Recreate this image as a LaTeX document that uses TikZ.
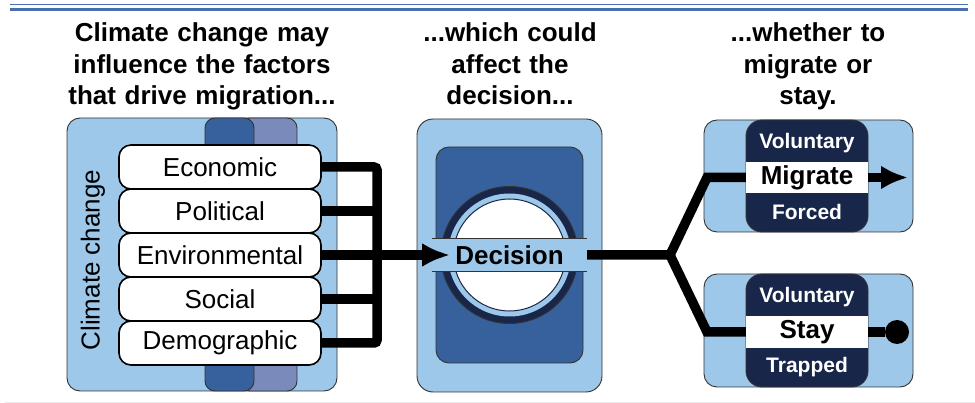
\documentclass[tikz,border=0pt]{standalone}
\usepackage{fontspec}
\setmainfont{Liberation Sans}
\usetikzlibrary{positioning}
\usetikzlibrary{arrows.meta}

\definecolor{skyfill}{RGB}{157,200,234}
\definecolor{midblue}{RGB}{54,97,157}
\definecolor{lilac}{RGB}{122,139,187}
\definecolor{navy}{RGB}{24,38,74}
\definecolor{rulecol}{RGB}{74,111,176}

\tikzset{
	panel/.style={draw=black!80, line width=0.9, rounded corners=13, fill=skyfill, inner sep=0pt},
	strip/.style={draw=black!80, line width=0.9, rounded corners=10, inner sep=0pt, minimum height=273},
	factor/.style={draw, line width=1.6, rounded corners=12, fill=white, inner sep=0pt, minimum width=202, minimum height=44, font=\fontsize{26}{31}\selectfont},
	% headings over the three columns
	head/.style={anchor=base, text width=330, align=center, inner sep=0pt, font=\bfseries\fontsize{26}{31.5}\selectfont},
	choice/.style={fill=white, inner sep=0pt, minimum width=122, minimum height=31, font=\bfseries\fontsize{26}{31}\selectfont},
	tag/.style={inner sep=0pt, minimum height=38, text=white, font=\bfseries\fontsize{21}{25}\selectfont},
	conn/.style={line width=9.5, black},
}

\begin{document}
\begin{tikzpicture}[x=1pt, y=-1pt]
	\useasboundingbox (0,0) rectangle (975,403);
	\draw[rulecol, line width=1.3] (10,4.7) -- (968,4.7);
	\draw[rulecol, line width=2.2] (10,9.5) -- (968,9.5);
	\draw[black!8, line width=1] (5,402) -- (975,402);
	
	\node (headL) [head] at (202,42) {Climate change may\\influence the factors\\that drive migration...};
	\node (headM) [head] at (510,42) {...which could\\affect the\\decision...};
	\node (headR) [head] at (808,42) {...whether to\\migrate or\\stay.};
	
	% drivers
	\node (panelL) [panel, minimum width=270, minimum height=273] at (202,254.5) {};
	\node (stripB) [strip, fill=lilac, minimum width=57] at (268.5,254.5) {};
	\node (stripA) [strip, fill=midblue, minimum width=49] at (229.5,254.5) {};
	\node (econ) [factor] at (220,167) {Economic};
	\node (poli) [factor, below=-1.6pt of econ] {Political};
	\node (envi) [factor, below=-1.6pt of poli] {Environmental};
	\node (soci) [factor, below=-1.6pt of envi] {Social};
	\node (demo) [factor, below=-1.6pt of soci] {Demographic};
	\node (climate) [rotate=90, inner sep=0pt, font=\fontsize{26}{31}\selectfont] at (93,260) {Climate change};
	
	% decision
	\node (panelM) [panel, rounded corners=16, minimum width=185, minimum height=273] at (509.5,255.5) {};
	\node (core) [panel, fill=midblue, minimum width=147, minimum height=216] at (509.5,255) {};
	\node (ring) [circle, draw=black!80, line width=0.9, fill=navy, minimum size=137, inner sep=0pt] at (509.5,255) {};
	\node (halo) [circle, fill=skyfill, minimum size=123, inner sep=0pt] at (ring) {};
	\node (lens) [circle, draw=navy, line width=1, fill=white, minimum size=112, inner sep=0pt] at (ring) {};
	\node (band) [fill=skyfill, minimum width=155, minimum height=32, inner sep=0pt] at (509.5,255) {};
	\draw[black!80, line width=0.9] (band.north west) -- (band.north east) (band.south west) -- (band.south east);
	\node (decision) [inner xsep=5, inner ysep=0, font=\bfseries\fontsize{26}{31}\selectfont] at (band) {Decision};
	
	% outcomes
	\node (migbox) [panel, minimum width=209, minimum height=112] at (808.5,176) {};
	\node (migcore) [panel, fill=navy, rounded corners=16, minimum width=122, minimum height=112] at (807,176) {};
	\node (migrate) [choice] at (807,177.5) {Migrate};
	\node (volA) [tag, above=0pt of migrate] {Voluntary};
	\node (forced) [tag, below=0pt of migrate] {Forced};
	
	\node (staybox) [panel, minimum width=209, minimum height=113] at (808.5,330.5) {};
	\node (staycore) [panel, fill=navy, rounded corners=16, minimum width=122, minimum height=113] at (807,330.5) {};
	\node (stay) [choice, minimum height=32] at (807,332) {Stay};
	\node (volB) [tag, above=0pt of stay] {Voluntary};
	\node (trapped) [tag, below=0pt of stay] {Trapped};
	
	\coordinate (bus) at (377,255);
	\coordinate (fork) at (670,255);
	\coordinate (upbend) at (707,177.5);
	\coordinate (lowbend) at (707,332);
	\coordinate (migtip) at (908,177.5);
	\node (stopdot) [circle, fill=black, minimum size=24, inner sep=0pt] at (897,332) {};
	
	\begin{scope}[conn]
		\draw[rounded corners=3] (econ.east) -| (bus |- demo.east) -- (demo.east);
		\draw (poli.east) -- (poli.east -| bus);
		\draw (soci.east) -- (soci.east -| bus);
		\draw[-{Latex[length=28pt,width=24pt]}] (envi.east) -- (decision.west);
		\draw (band.east) -- (fork) -- (upbend) -- (migrate.west);
		\draw (fork) -- (lowbend) -- (stay.west);
		\draw[-{Latex[length=27pt,width=24pt]}] (migrate.east) -- (migtip);
		\draw (stay.east) -- (stopdot);
	\end{scope}
\end{tikzpicture}
\end{document}
